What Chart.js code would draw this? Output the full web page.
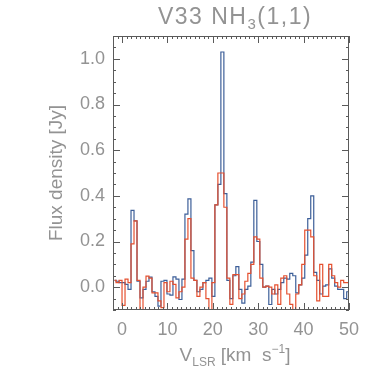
<!DOCTYPE html>
<html lang="en">
<head>
    <meta charset="UTF-8">
    <title>V33 NH3(1,1)</title>
    <style>
        * { margin: 0; padding: 0; box-sizing: border-box; }
        html, body { width: 382px; height: 382px; background: #fff; overflow: hidden; }
        .container { width: 382px; height: 382px; }
        canvas { display: block; }
    </style>
    <script src="https://cdn.jsdelivr.net/npm/chart.js"></script>
</head>
<body>
    <div class="container">
        <canvas id="specChart" width="382" height="382"></canvas>
    </div>

    <script>
        // channel velocities (km/s)
        const vel = [-1.66, -1.00, -0.34, 0.32, 0.98, 1.64, 2.30, 2.96, 3.62, 4.28,
            4.94, 5.60, 6.26, 6.92, 7.58, 8.24, 8.90, 9.56, 10.22, 10.88,
            11.54, 12.20, 12.86, 13.52, 14.18, 14.84, 15.50, 16.16, 16.82, 17.48,
            18.14, 18.80, 19.46, 20.12, 20.78, 21.44, 22.10, 22.76, 23.42, 24.08,
            24.74, 25.40, 26.06, 26.72, 27.38, 28.04, 28.70, 29.36, 30.02, 30.68,
            31.34, 32.00, 32.66, 33.32, 33.98, 34.64, 35.30, 35.96, 36.62, 37.28,
            37.94, 38.60, 39.26, 39.92, 40.58, 41.24, 41.90, 42.56, 43.22, 43.88,
            44.54, 45.20, 45.86, 46.52, 47.18, 47.84, 48.50, 49.16, 49.82];

        // flux density (Jy), blue spectrum
        const fluxBlue = [0.03, 0.026, 0.02, 0.02, 0.012, -0.01, 0.336, 0.29, 0.026, -0.047,
            -0.01, 0.026, 0.044, -0.02, -0.04, -0.083, 0.026, 0.03, -0.03, -0.035,
            0.045, 0.035, -0.054, 0.035, 0.32, 0.387, 0.16, 0.03, -0.02, -0.01,
            0.02, 0.03, 0.04, -0.04, 0.36, 0.45, 1.03, 0.41, 0.03, -0.05,
            0.05, 0.09, -0.01, -0.07, -0.01, 0.005, 0.11, 0.38, 0.2, 0.1,
            0.0, 0.005, -0.076, -0.01, -0.03, -0.01, 0.02, 0.04, 0.035, 0.06,
            0.05, -0.025, 0.01, 0.04, 0.14, 0.3, 0.4, 0.065, 0.03, -0.03,
            0.005, 0.01, 0.08, 0.04, 0.005, -0.01, -0.01, -0.05, -0.02];

        // flux density (Jy), red spectrum
        const fluxRed = [0.03, 0.02, 0.03, -0.08, 0.035, 0.02, 0.19, 0.29, 0.03, -0.1,
            0.0, 0.048, 0.04, -0.025, -0.025, -0.06, -0.09, 0.02, -0.02, 0.026,
            0.012, -0.047, -0.02, 0.0, 0.21, 0.3, 0.04, 0.03, -0.04, 0.0,
            0.02, -0.05, -0.11, 0.02, 0.36, 0.5, 0.5, 0.35, 0.04, -0.075,
            0.055, 0.055, -0.05, -0.03, 0.026, 0.06, 0.1, 0.22, 0.21, 0.04,
            0.0, 0.005, 0.0, -0.03, 0.01, -0.075, 0.04, 0.05, -0.03, -0.075,
            -0.12, -0.03, 0.01, 0.1, 0.25, 0.25, 0.22, 0.05, -0.06, 0.1,
            -0.04, -0.04, 0.1, 0.05, 0.02, 0.0, 0.03, 0.02, 0.02];

        const xTicks = [0, 10, 20, 30, 40, 50];
        const yTicks = [0.0, 0.2, 0.4, 0.6, 0.8, 1.0];

        const textColor = '#939393';
        const axisColor = '#5a5a5a';
        const fontFam = '"Liberation Sans", Arial, sans-serif';

        // frame with inward ticks on all four sides + titles
        const framePlugin = {
            id: 'frame',
            afterDraw(chart) {
                const { ctx, chartArea: a, scales: { x, y } } = chart;
                ctx.save();
                ctx.strokeStyle = axisColor;
                ctx.lineWidth = 1;
                ctx.strokeRect(a.left + 0.5, a.top + 0.5, a.right - a.left - 1, a.bottom - a.top - 1);

                ctx.beginPath();
                for (let v = -2; v <= 50; v += 1) {
                    const px = Math.round(x.getPixelForValue(v)) + 0.5;
                    const len = v % 10 === 0 ? 7 : 3;
                    ctx.moveTo(px, a.bottom); ctx.lineTo(px, a.bottom - len);
                    ctx.moveTo(px, a.top); ctx.lineTo(px, a.top + len);
                }
                for (let k = -2; k <= 22; k++) {
                    const v = k * 0.05;
                    const py = Math.round(y.getPixelForValue(v)) + 0.5;
                    const len = k % 4 === 0 ? 7 : 3;
                    ctx.moveTo(a.left, py); ctx.lineTo(a.left + len, py);
                    ctx.moveTo(a.right, py); ctx.lineTo(a.right - len, py);
                }
                ctx.stroke();

                ctx.fillStyle = textColor;
                ctx.textBaseline = 'alphabetic';

                // title: V33 NH3(1,1)
                const cx = (a.left + a.right) / 2 + 4;
                const tParts = [['V33 NH', 23, 0], ['3', 15, 5], ['(1,1)', 23, 0]];
                ctx.letterSpacing = '1.5px';
                drawParts(ctx, tParts, cx, 24);
                ctx.letterSpacing = '0px';

                // x axis title: VLSR [km s-1]
                const xParts = [['V', 19, 0], ['LSR', 12, 5], [' [km  s', 19, 0], ['\u22121', 12, -8], [']', 19, 0]];
                drawParts(ctx, xParts, cx, 361);

                // y axis title
                ctx.save();
                ctx.translate(62, (a.top + a.bottom) / 2);
                ctx.rotate(-Math.PI / 2);
                ctx.textAlign = 'center';
                ctx.font = '19px ' + fontFam;
                ctx.fillText('Flux density [Jy]', 0, 0);
                ctx.restore();

                ctx.restore();
            }
        };

        function drawParts(ctx, parts, cx, baseY) {
            let total = 0;
            parts.forEach(p => { ctx.font = p[1] + 'px ' + fontFam; total += ctx.measureText(p[0]).width; });
            let xp = cx - total / 2;
            ctx.textAlign = 'left';
            parts.forEach(p => {
                ctx.font = p[1] + 'px ' + fontFam;
                ctx.fillText(p[0], xp, baseY + p[2]);
                xp += ctx.measureText(p[0]).width;
            });
        }

        const ctx = document.getElementById('specChart').getContext('2d');
        new Chart(ctx, {
            type: 'line',
            data: {
                datasets: [
                    {
                        label: 'red',
                        data: vel.map((v, i) => ({ x: v, y: fluxRed[i] })),
                        borderColor: '#e5502f',
                        borderWidth: 1.2,
                        stepped: 'middle',
                        pointRadius: 0,
                        fill: false
                    },
                    {
                        label: 'blue',
                        data: vel.map((v, i) => ({ x: v, y: fluxBlue[i] })),
                        borderColor: '#3d5f99',
                        borderWidth: 1.2,
                        stepped: 'middle',
                        pointRadius: 0,
                        fill: false
                    }
                ]
            },
            options: {
                responsive: false,
                animation: false,
                devicePixelRatio: 1,
                layout: { padding: { left: 0, right: 33, top: 36, bottom: 0 } },
                plugins: { legend: { display: false }, tooltip: { enabled: false } },
                scales: {
                    x: {
                        type: 'linear',
                        min: -2,
                        max: 50,
                        afterBuildTicks: s => { s.ticks = xTicks.map(v => ({ value: v })); },
                        afterFit: s => { s.height = 72; },
                        grid: { display: false, drawTicks: false },
                        border: { display: false },
                        ticks: {
                            color: textColor,
                            font: { family: fontFam, size: 18 },
                            padding: 9,
                            maxRotation: 0,
                            callback: v => String(v)
                        }
                    },
                    y: {
                        type: 'linear',
                        min: -0.1,
                        max: 1.1,
                        afterBuildTicks: s => { s.ticks = yTicks.map(v => ({ value: v })); },
                        afterFit: s => { s.width = 113; },
                        grid: { display: false, drawTicks: false },
                        border: { display: false },
                        ticks: {
                            color: textColor,
                            font: { family: fontFam, size: 18 },
                            padding: 8,
                            callback: v => v.toFixed(1)
                        }
                    }
                }
            },
            plugins: [framePlugin]
        });
    </script>
</body>
</html>
